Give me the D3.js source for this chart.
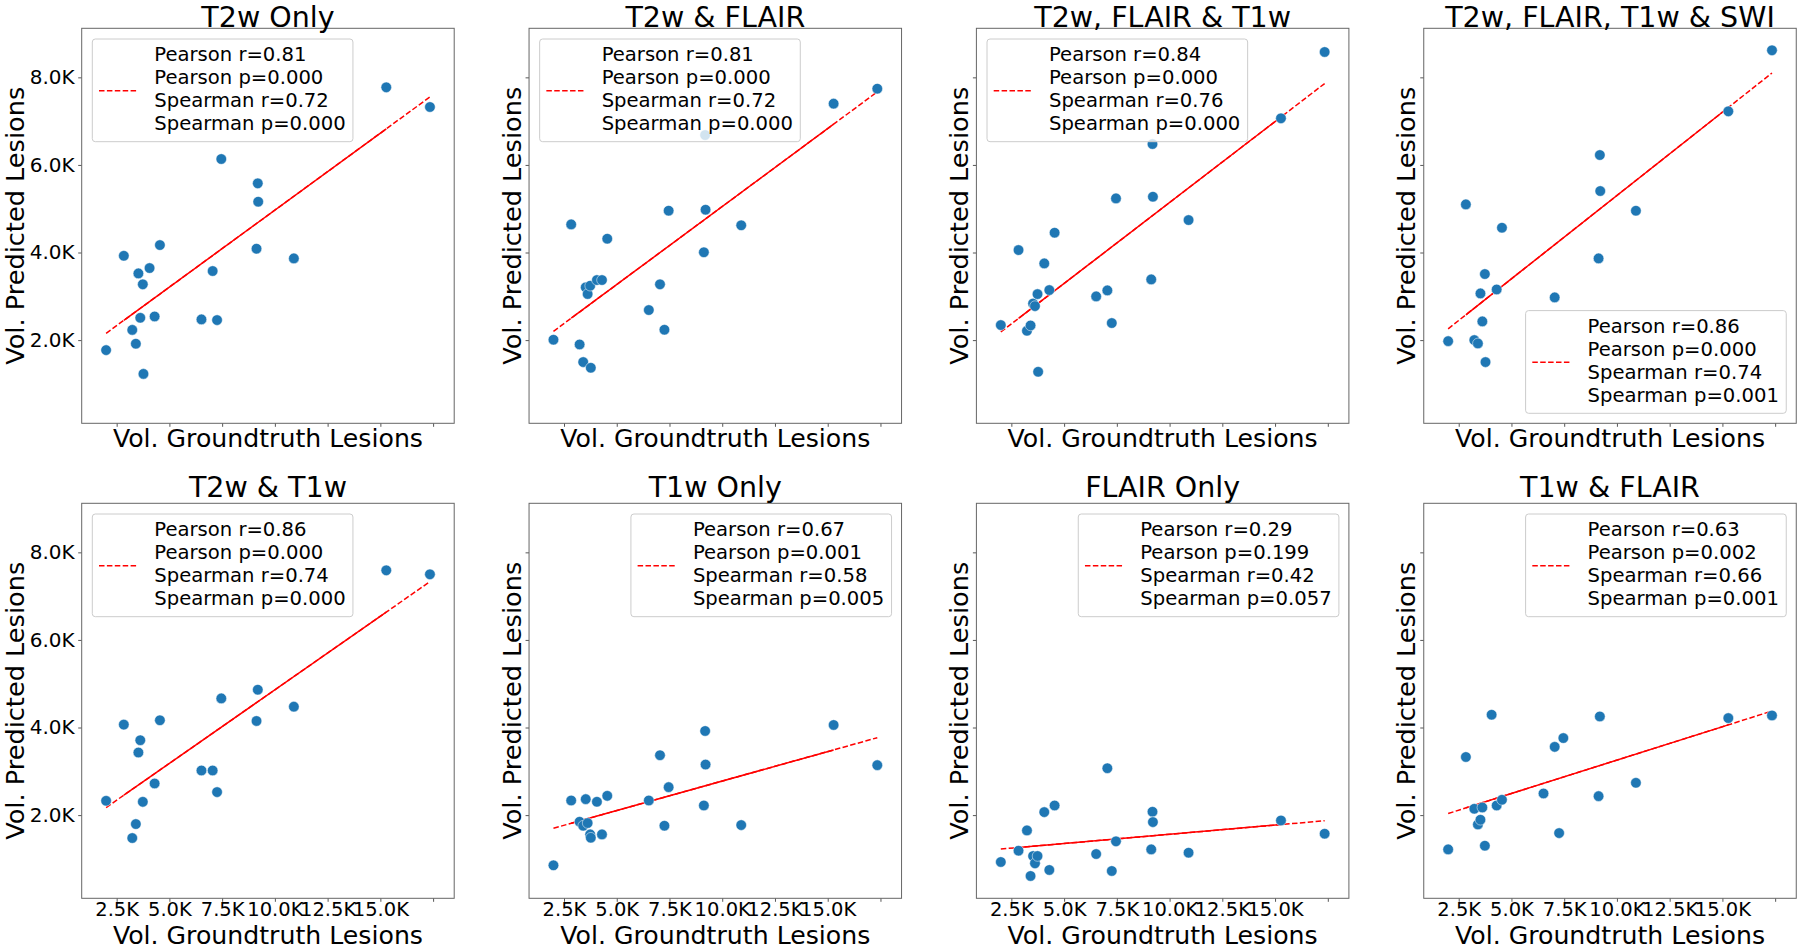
<!DOCTYPE html>
<html><head><meta charset="utf-8">
<script src="https://cdn.jsdelivr.net/npm/d3@7"></script>
<style>
body{margin:0;background:#fff}
svg text{font-family:"DejaVu Sans",sans-serif;fill:#000}
</style>
</head><body>
<svg id="chart" width="1800" height="949"></svg>
<script>
// ---------------- data ----------------
const panelTitles = ["T2w Only","T2w & FLAIR","T2w, FLAIR & T1w","T2w, FLAIR, T1w & SWI",
                     "T2w & T1w","T1w Only","FLAIR Only","T1w & FLAIR"];
// ground-truth lesion volume per subject (shared by every panel)
const groundTruth = [2000,2840,3240,3410,3530,3620,3740,3770,4060,4300,4550,6520,7050,7260,7460,9130,9190,9210,10900,15280,17350];
// predicted lesion volume per subject (null = no point shown)
const predT2wOnly        = [1771,3925,2233,1917,3523,2509,3273,1228,3645,2540,4170,2473,3577,2457,6135,4087,5579,5160,3866,7772,7323];
const predT2wFlair       = [2008,4642,1901,1498,3204,3052,3242,1368,3371,3371,4315,2686,3273,2236,4955,4005,6682,4977,4621,7399,7741];
const predT2wFlairT1w    = [2343,4056,2213,2335,2837,2776,3050,1276,3751,3142,4452,2998,3135,2389,5236,3386,6477,5274,4741,7064,8579];
const predT2wFlairT1wSwi = [1976,5099,2000,1924,3066,2427,3508,1498,null,3157,4566,null,2975,null,null,3866,6226,5404,4954,7224,8617];
const predT2wT1w         = [2326,4066,1476,1795,3429,3710,2303,null,null,2723,4165,3019,3019,2525,4665,4149,4863,null,4476,7589,7498];
const predT1wOnly        = [853,2334,1848,1757,2364,1818,1559,1483,2304,1559,2440,2334,3367,1757,2638,2220,3921,3154,1772,4058,3140];
const predFlairOnly      = [929,1187,1650,610,1066,898,1066,null,2068,747,2220,1111,3071,724,1400,1217,2076,1840,1141,1878,1575];
const predT1wFlair       = [1217,3327,2144,1787,1893,2174,1301,null,4291,2220,2349,2494,3558,1589,3759,2433,4253,null,2737,4215,4276];
const predictions = [predT2wOnly,predT2wFlair,predT2wFlairT1w,predT2wFlairT1wSwi,
                     predT2wT1w,predT1wOnly,predFlairOnly,predT1wFlair];

const pearsonR  = ["0.81","0.81","0.84","0.86","0.86","0.67","0.29","0.63"];
const pearsonP  = ["0.000","0.000","0.000","0.000","0.000","0.001","0.199","0.002"];
const spearmanR = ["0.72","0.72","0.76","0.74","0.74","0.58","0.42","0.66"];
const spearmanP = ["0.000","0.000","0.000","0.001","0.000","0.005","0.057","0.001"];
const legendCorner = ["upper left","upper left","upper left","lower right",
                      "upper left","upper right","upper right","upper right"];

const xTicks = [2500,5000,7500,10000,12500,15000,17500];
const xTickLabels = ["2.5K","5.0K","7.5K","10.0K","12.5K","15.0K",""];
const yTicks = [2000,4000,6000,8000];
const yTickLabels = ["2.0K","4.0K","6.0K","8.0K"];
const xDomain = [843,18500];
const yDomain = [100,9120];

// ---------------- layout ----------------
const svg = d3.select("#chart");
const colLeft0 = 81.7, colStep = 447.35, axW = 372.5;
const rowTop = [28.3, 503.3], axH = 395;
const titleBase = [26.6, 497];
const xLabelOffset = [23.4, 45.6];
const blue = "#1f77b4";

panelTitles.forEach((title, p) => {
  const row = Math.floor(p/4), col = p%4;
  const L = colLeft0 + col*colStep, T = rowTop[row];
  const x = d3.scaleLinear().domain(xDomain).range([L, L+axW]);
  const y = d3.scaleLinear().domain(yDomain).range([T+axH, T]);
  const g = svg.append("g");

  // ticks
  const xa = d3.axisBottom(x).tickValues(xTicks).tickSize(3.5).tickPadding(0.8)
      .tickFormat((d,i)=> row===1 ? xTickLabels[i] : "");
  const gx = g.append("g").attr("transform",`translate(0,${T+axH})`).call(xa);
  const ya = d3.axisLeft(y).tickValues(yTicks).tickSize(3.5).tickPadding(3.5)
      .tickFormat((d,i)=> col===0 ? yTickLabels[i] : "");
  const gy = g.append("g").attr("transform",`translate(${L},0)`).call(ya);
  [gx,gy].forEach(a=>{
    a.select(".domain").remove();
    a.selectAll(".tick line").attr("stroke","#444").attr("stroke-width",0.9);
    a.selectAll(".tick text").style("font-family","DejaVu Sans").style("font-size","20px").attr("fill","#000");
  });
  gx.selectAll(".tick text").style("font-size","19.5px");

  // data
  const pred = predictions[p];
  const pts = groundTruth.map((gt,i)=>({gt, pr:pred[i]})).filter(d=>d.pr!==null);

  // regression (least squares)
  const mx = d3.mean(pts,d=>d.gt), my = d3.mean(pts,d=>d.pr);
  const slope = d3.sum(pts,d=>(d.gt-mx)*(d.pr-my)) / d3.sum(pts,d=>(d.gt-mx)**2);
  const icpt = my - slope*mx;
  const xs = pts.map(d=>d.gt).sort(d3.ascending);
  const fit = v => icpt + slope*v;
  const line = d3.line().x(d=>x(d)).y(d=>y(fit(d)));
  g.append("path").attr("d", line([xs[0], xs[xs.length-1]]))
    .attr("stroke","#ff0000").attr("stroke-width",1.5).attr("fill","none")
    .attr("stroke-dasharray","5.5,2.4");
  g.append("path").attr("d", line([xs[1], xs[xs.length-2]]))
    .attr("stroke","#ff0000").attr("stroke-width",1.5).attr("fill","none");

  // points
  g.append("g").selectAll("circle").data(pts).join("circle")
    .attr("cx",d=>x(d.gt)).attr("cy",d=>y(d.pr)).attr("r",5.3)
    .attr("fill",blue).attr("stroke","#fff").attr("stroke-width",0.5);

  // frame
  g.append("rect").attr("x",L).attr("y",T).attr("width",axW).attr("height",axH)
    .attr("fill","none").attr("stroke","#666").attr("stroke-width",1);

  // title
  g.append("text").attr("x",L+axW/2).attr("y",titleBase[row]).attr("text-anchor","middle")
    .style("font-size","28.5px").text(title);
  // x label
  g.append("text").attr("x",L+axW/2).attr("y",T+axH+xLabelOffset[row])
    .attr("text-anchor","middle").style("font-size","25.2px").text("Vol. Groundtruth Lesions");
  // y label
  const ylx = col===0 ? L-57.5 : L-8.5;
  g.append("text").attr("transform",`translate(${ylx},${T+axH/2}) rotate(-90)`)
    .attr("text-anchor","middle").style("font-size","25.6px").text("Vol. Predicted Lesions");

  // legend
  const lines = [`Pearson r=${pearsonR[p]}`,`Pearson p=${pearsonP[p]}`,
                 `Spearman r=${spearmanR[p]}`,`Spearman p=${spearmanP[p]}`];
  const lg = g.append("g");
  const frame = lg.append("rect");
  const padL=6.7, handleLen=37.7, handleGap=17.6, padR=7.3, lineH=23, legH=102.7;
  const tx = lg.selectAll("text").data(lines).join("text")
    .attr("x", padL+handleLen+handleGap).attr("y",(d,i)=>15.3+i*lineH).attr("dy","0.35em")
    .style("font-size","19.6px").text(d=>d);
  let tw = 0; tx.each(function(){ tw = Math.max(tw, this.getComputedTextLength()); });
  const legW = padL+handleLen+handleGap+tw+padR;
  frame.attr("width",legW).attr("height",legH).attr("rx",3).attr("ry",3)
    .attr("fill","#fff").attr("fill-opacity",0.8).attr("stroke","#cccccc").attr("stroke-width",1);
  lg.append("line").attr("x1",padL).attr("x2",padL+handleLen).attr("y1",51.7).attr("y2",51.7)
    .attr("stroke","#ff0000").attr("stroke-width",1.5).attr("stroke-dasharray","5.5,2.4");
  const corner = legendCorner[p];
  const lx = corner.includes("left") ? L+10.6 : L+axW-10-legW;
  const ly = corner.includes("upper") ? T+10.7 : T+axH-10-legH;
  lg.attr("transform",`translate(${lx},${ly})`);
});
</script>
</body></html>
